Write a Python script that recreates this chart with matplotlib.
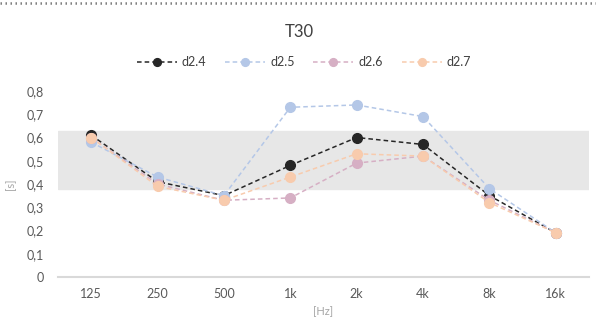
import numpy as np
import matplotlib.pyplot as plt
from matplotlib.lines import Line2D

plt.rcParams['font.family'] = ['Lato', 'DejaVu Sans']

freqs = ['125', '250', '500', '1k', '2k', '4k', '8k', '16k']
d24 = [0.61, 0.41, 0.35, 0.48, 0.60, 0.57, 0.35, 0.19]
d25 = [0.58, 0.43, 0.35, 0.73, 0.74, 0.69, 0.38, 0.19]
d26 = [0.60, 0.40, 0.33, 0.34, 0.49, 0.52, 0.33, 0.19]
d27 = [0.60, 0.39, 0.33, 0.43, 0.53, 0.52, 0.32, 0.19]
band_lo, band_hi = 0.38, 0.63

series = [('d2.4', d24, '#262626'),
          ('d2.5', d25, '#b4c7e7'),
          ('d2.6', d26, '#d6afc4'),
          ('d2.7', d27, '#f8cbad')]

fig = plt.figure(figsize=(5.96, 3.34), dpi=100)
ax = fig.add_axes([58/596, 1-277/334, 531/596, (277-91)/334])

x = np.arange(len(freqs))
ax.axhspan(band_lo, band_hi, color='#e7e7e7', zorder=0)
for name, vals, col in series:
    ax.plot(x, vals, ls='--', lw=1.1, color=col, marker='o', markersize=7,
            label=name, zorder=3, dashes=(3, 2))

ax.set_xlim(-0.5, 7.5)
ax.set_ylim(0, 0.8)
ax.set_xticks(x)
ax.set_xticklabels(freqs)
yt = np.arange(0, 0.81, 0.1)
ax.set_yticks(yt)
ax.set_yticklabels(['0'] + [('%.1f' % v).replace('.', ',') for v in yt[1:]])
ax.tick_params(length=0, labelsize=9, colors='#595959', pad=8)
ax.tick_params(axis='y', pad=10)
for s in ['top', 'right', 'left']:
    ax.spines[s].set_visible(False)
ax.spines['bottom'].set_color('#d9d9d9')
ax.spines['bottom'].set_linewidth(1.5)

ax.set_ylabel('[s]', color='#a6a6a6', fontsize=8, labelpad=8)
ax.set_xlabel('[Hz]', color='#a6a6a6', fontsize=8, labelpad=4)

fig.text(0.503, 1-32/334, 'T30', ha='center', va='center', fontsize=12, color='#404040')
fig.legend(loc='center', bbox_to_anchor=(0.51, 1-62/334), ncol=4, frameon=False,
           fontsize=9, labelcolor='#404040', handlelength=3.2, columnspacing=1.5,
           handletextpad=0.4, markerscale=0.8)

fig.add_artist(Line2D([0, 1], [1-3/334, 1-3/334], color='#7f7f7f', lw=1.8,
                      ls=(0, (0.6, 1.4)), transform=fig.transFigure))

fig.savefig('out.png', dpi=100)
